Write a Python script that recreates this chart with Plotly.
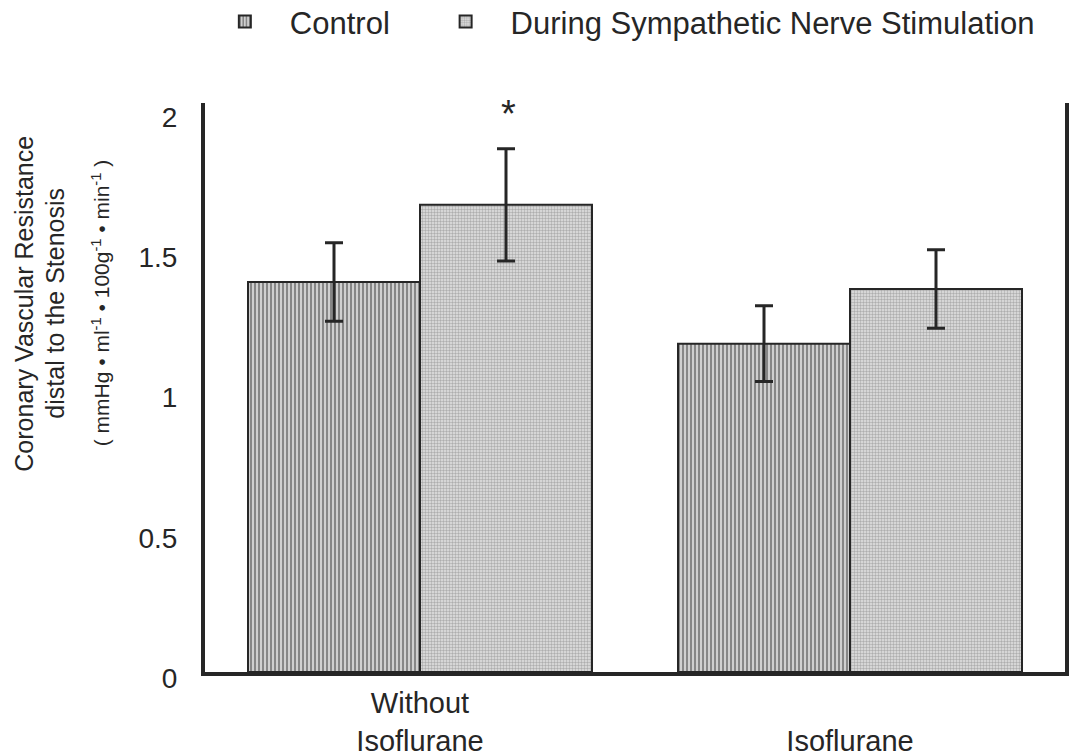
import plotly.graph_objects as go

# ---- data ----
categories = ["Without Isoflurane", "Isoflurane"]
tick_labels = ["Without<br>Isoflurane", " <br>Isoflurane"]
control_mean = [1.39, 1.17]
control_sem = [0.14, 0.135]
stim_mean = [1.665, 1.365]
stim_sem = [0.20, 0.14]
series_names = ["Control", "During Sympathetic Nerve Stimulation"]
y_ticks = [0, 0.5, 1, 1.5, 2]
y_tick_text = ["0", "0.5", "1", "1.5", "2"]
significant = [True, False]

FONT = "Liberation Sans, Arial, Helvetica, sans-serif"
INK = "#262626"
NBSP = "\u00a0"

fig = go.Figure()
fig.add_trace(go.Bar(
    name=series_names[0] + NBSP * 3, x=categories, y=control_mean,
    error_y=dict(type="data", array=control_sem, color=INK, thickness=3, width=9),
    marker=dict(color="#e0e0e0", line=dict(color=INK, width=2),
                pattern=dict(shape="|", size=4, solidity=0.62, fgcolor="#262626", bgcolor="#e6e6e6")),
))
fig.add_trace(go.Bar(
    name=series_names[1], x=categories, y=stim_mean,
    error_y=dict(type="data", array=stim_sem, color=INK, thickness=3, width=9),
    marker=dict(color="#d6d6d6", line=dict(color=INK, width=2),
                pattern=dict(shape=".", size=3, solidity=0.5, fgcolor="#7a7a7a", bgcolor="#e2e2e2")),
))

# significance markers above stimulation bars
for i, (cat, sig) in enumerate(zip(categories, significant)):
    if sig:
        fig.add_annotation(x=cat, y=stim_mean[i] + stim_sem[i], xref="x", yref="y",
                           text="*", showarrow=False, yanchor="bottom",
                           xshift=88, yshift=12, font=dict(size=38, color=INK, family=FONT))

# y-axis title lines
fig.add_annotation(text="Coronary Vascular Resistance", textangle=-90, showarrow=False,
                   xref="paper", yref="paper", x=-0.210, y=0.648, xanchor="center", yanchor="middle",
                   font=dict(size=25, color=INK, family=FONT))
fig.add_annotation(text="distal to the Stenosis", textangle=-90, showarrow=False,
                   xref="paper", yref="paper", x=-0.174, y=0.648, xanchor="center", yanchor="middle",
                   font=dict(size=25, color=INK, family=FONT))
fig.add_annotation(text="( mmHg • ml<sup>-1</sup> • 100g<sup>-1</sup> • min<sup>-1</sup> )", textangle=-90,
                   showarrow=False, xref="paper", yref="paper", x=-0.121, y=0.648,
                   xanchor="center", yanchor="middle",
                   font=dict(size=21, color=INK, family=FONT))

fig.update_layout(
    width=1075, height=755,
    margin=dict(l=205, r=10, t=103, b=83, autoexpand=False),
    paper_bgcolor="white", plot_bgcolor="white",
    barmode="group", bargap=0.2, bargroupgap=0,
    font=dict(family=FONT, color=INK),
    showlegend=True,
    legend=dict(orientation="h", x=-0.006, xanchor="left", y=1.19, yanchor="top",
                font=dict(size=31, color=INK, family=FONT),
                itemwidth=80, bgcolor="rgba(0,0,0,0)"),
    xaxis=dict(tickmode="array", tickvals=categories, ticktext=tick_labels,
               showline=True, linecolor=INK, linewidth=4, mirror=False, automargin=False,
               ticks="", showgrid=False, zeroline=False, ticklabelstandoff=2,
               tickfont=dict(size=29, color=INK, family=FONT)),
    yaxis=dict(range=[0, 2.028], tickmode="array", tickvals=y_ticks, ticktext=y_tick_text,
               showline=True, linecolor=INK, linewidth=4, mirror=True, automargin=False,
               ticks="", showgrid=False, zeroline=False, ticklabelstandoff=18,
               ticklabelshift=6,
               tickfont=dict(size=28, color=INK, family=FONT)),
)

fig.write_html("out.html", config={"displayModeBar": False},
               post_script="document.body.style.margin='0';document.body.style.overflow='hidden';")
